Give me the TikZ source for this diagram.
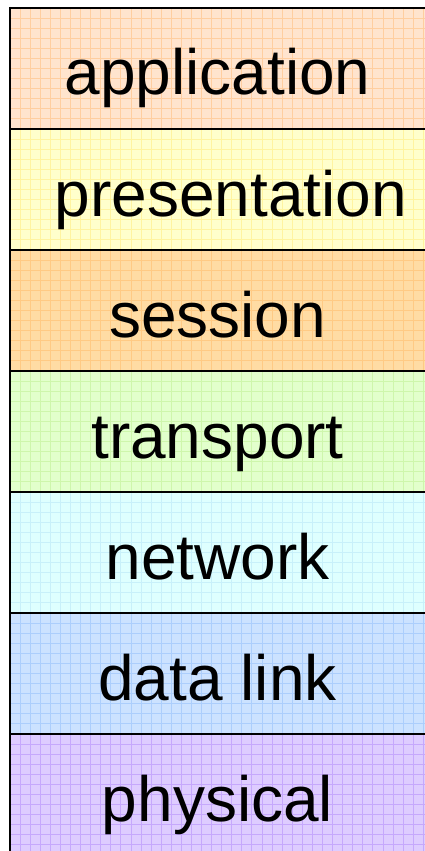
\documentclass[tikz,border=0pt]{standalone}
\usepackage{fontspec}
\setmainfont{Liberation Sans}
% layer fill colours and their grid lines
\definecolor{appfill}{RGB}{255,228,206}\definecolor{appgrid}{RGB}{255,206,160}
\definecolor{prefill}{RGB}{255,255,204}\definecolor{pregrid}{RGB}{255,244,160}
\definecolor{sesfill}{RGB}{255,220,164}\definecolor{sesgrid}{RGB}{255,202,132}
\definecolor{trafill}{RGB}{226,255,204}\definecolor{tragrid}{RGB}{206,246,172}
\definecolor{netfill}{RGB}{222,255,255}\definecolor{netgrid}{RGB}{200,240,250}
\definecolor{datfill}{RGB}{204,226,255}\definecolor{datgrid}{RGB}{172,206,252}
\definecolor{phyfill}{RGB}{222,204,255}\definecolor{phygrid}{RGB}{198,168,252}
\tikzset{
  layertext/.style={anchor=base, inner sep=0pt, font=\fontsize{64}{64}\selectfont},
  layerrule/.style={line width=2.4pt, black},
  gridline/.style={line width=0.9pt}
}
\begin{document}
\begin{tikzpicture}[x=1pt,y=-1pt]
\useasboundingbox (0,0) rectangle (425,851);
\foreach \i/\fc/\gc/\lbl/\nm/\tx in {
  0/appfill/appgrid/application/app/217.5,
  1/prefill/pregrid/presentation/pre/231,
  2/sesfill/sesgrid/session/ses/217.5,
  3/trafill/tragrid/transport/tra/217.5,
  4/netfill/netgrid/network/net/217.5,
  5/datfill/datgrid/data link/dat/217.5,
  6/phyfill/phygrid/physical/phy/217.5}{
  \pgfmathsetmacro{\top}{8+121*\i}
  \pgfmathsetmacro{\bot}{ifthenelse(\i==6,851,\top+121)}
  \fill[\fc] (10,\top) rectangle (425,\bot);
  \begin{scope}
    \clip (10,\top) rectangle (425,\bot);
    \foreach \k in {1,...,41}
      \draw[gridline,\gc] (10+\k*10.08,\top) -- (10+\k*10.08,\bot);
    \foreach \k in {1,...,12}
      \draw[gridline,\gc] (10,\top+\k*10.08) -- (425,\top+\k*10.08);
  \end{scope}
  \node[layertext] (\nm) at (\tx,\top+87) {\lbl};
  \draw[layerrule] (10,\top) -- (425,\top);
}
\draw[layerrule] (10,6.8) -- (10,851);
\end{tikzpicture}
\end{document}
